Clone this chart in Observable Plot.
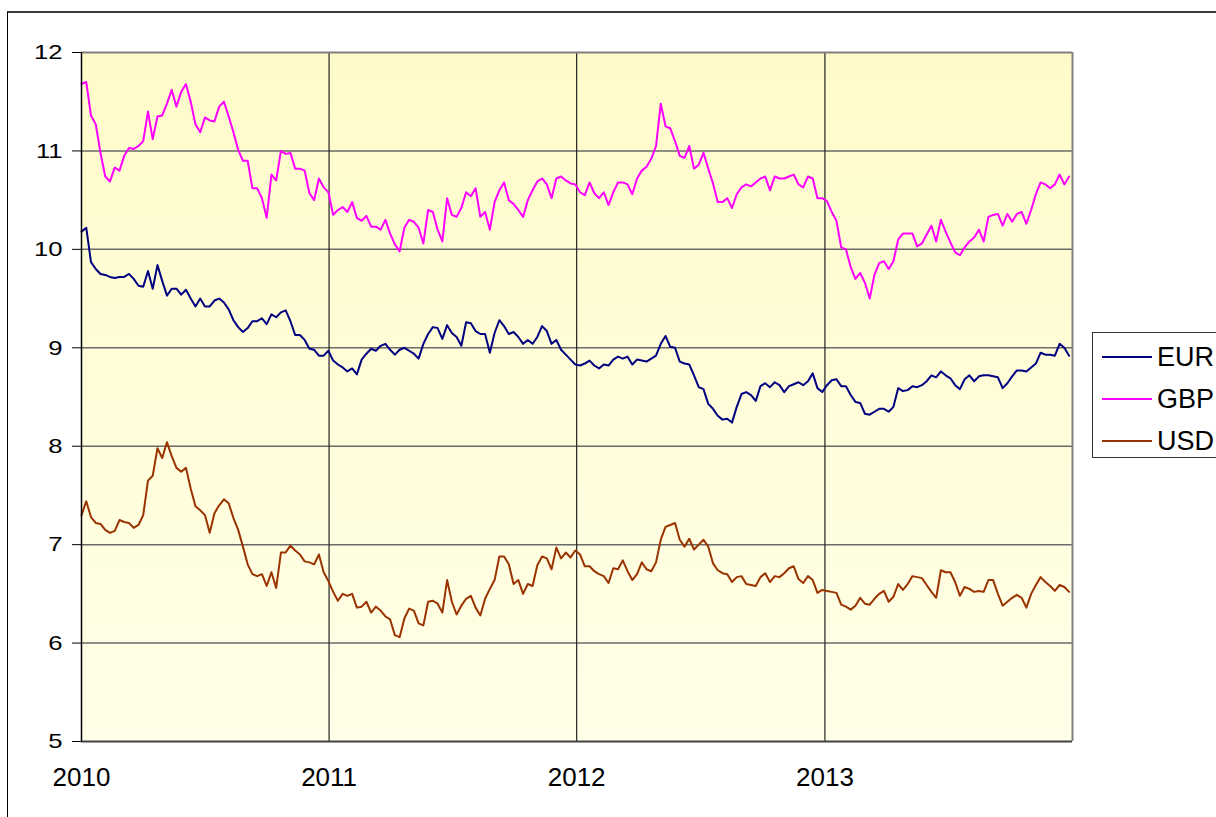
<!DOCTYPE html>
<html>
<head>
<meta charset="utf-8">
<script src="https://cdn.jsdelivr.net/npm/d3@7"></script>
<script src="https://cdn.jsdelivr.net/npm/@observablehq/plot@0.6"></script>
<style>
  html, body { margin: 0; padding: 0; background: #fff; overflow: hidden; }
  #wrap { position: relative; width: 1216px; height: 817px; font-family: "Liberation Sans", Arial, sans-serif; }
  #frame { position: absolute; left: 7px; top: 11px; width: 1300px; height: 900px; border-left: 1px solid #000; border-top: 2px solid #3a3a3a; }
  #chart { position: absolute; left: 0; top: 0; }
  #legend { position: absolute; left: 1092px; top: 332px; width: 150px; height: 124px; border: 1px solid #333; background: #fff; }
  .item { position: absolute; left: 9px; height: 30px; display: flex; align-items: center; font-size: 27px; color: #000; }
  .sw { width: 50px; height: 0; border-top: 2px solid; margin-right: 5px; }
</style>
</head>
<body>
<div id="wrap">
  <div id="frame"></div>
  <div id="chart"></div>
  <div id="legend"></div>
</div>
<script>
// Series (weekly readings, first value 2010-01-01, one per week)
const seriesNames = ["EUR", "GBP", "USD"];
const seriesColors = ["#000080", "#FF00FF", "#993300"];
const yTicks = [5, 6, 7, 8, 9, 10, 11, 12];
const yearLabels = [2010, 2011, 2012, 2013];
const startDate = Date.UTC(2010, 0, 1);
const endDate = Date.UTC(2014, 0, 1);

const eur = [
  10.18, 10.22, 9.87, 9.80, 9.75, 9.74, 9.72, 9.71, 9.72, 9.72,
  9.75, 9.70, 9.63, 9.62, 9.78, 9.60, 9.84, 9.68, 9.53, 9.60,
  9.60, 9.54, 9.59, 9.50, 9.42, 9.50, 9.42, 9.42, 9.48, 9.50,
  9.46, 9.39, 9.28, 9.21, 9.16, 9.20, 9.27, 9.27, 9.30, 9.24,
  9.34, 9.31, 9.36, 9.38, 9.27, 9.13, 9.13, 9.08, 8.99, 8.98,
  8.92, 8.92, 8.97, 8.87, 8.83, 8.80, 8.76, 8.79, 8.73, 8.88,
  8.94, 8.99, 8.97, 9.02, 9.04, 8.98, 8.93, 8.98, 9.00, 8.97,
  8.94, 8.89, 9.04, 9.14, 9.21, 9.20, 9.09, 9.23, 9.15, 9.11,
  9.02, 9.26, 9.25, 9.17, 9.14, 9.14, 8.95, 9.15, 9.28, 9.22,
  9.14, 9.16, 9.11, 9.04, 9.08, 9.04, 9.11, 9.22, 9.17, 9.04,
  9.08, 8.98, 8.93, 8.88, 8.83, 8.82, 8.84, 8.87, 8.82, 8.79,
  8.83, 8.82, 8.88, 8.91, 8.89, 8.91, 8.83, 8.88, 8.87, 8.86,
  8.89, 8.92, 9.04, 9.12, 9.01, 9.00, 8.86, 8.84, 8.83, 8.72,
  8.60, 8.58, 8.43, 8.38, 8.31, 8.27, 8.28, 8.24, 8.40, 8.53,
  8.55, 8.52, 8.46, 8.61, 8.64, 8.60, 8.65, 8.62, 8.55, 8.61,
  8.63, 8.65, 8.62, 8.66, 8.74, 8.59, 8.55, 8.62, 8.67, 8.68,
  8.61, 8.61, 8.52, 8.45, 8.44, 8.33, 8.32, 8.35, 8.38, 8.38,
  8.35, 8.40, 8.59, 8.56, 8.57, 8.61, 8.60, 8.62, 8.66, 8.72,
  8.70, 8.76, 8.72, 8.69, 8.62, 8.58, 8.68, 8.72, 8.66, 8.71,
  8.72, 8.72, 8.71, 8.70, 8.59, 8.64, 8.71, 8.77, 8.77, 8.76,
  8.80, 8.84, 8.95, 8.93, 8.93, 8.92, 9.04, 9.00, 8.92
];

const gbp = [
  11.68, 11.70, 11.36, 11.27, 10.98, 10.74, 10.69, 10.83, 10.80, 10.95,
  11.03, 11.02, 11.05, 11.10, 11.40, 11.12, 11.35, 11.36, 11.48, 11.62,
  11.45, 11.60, 11.68, 11.50, 11.27, 11.19, 11.34, 11.31, 11.30, 11.45,
  11.50, 11.35, 11.19, 11.01, 10.90, 10.90, 10.62, 10.62, 10.52, 10.32,
  10.76, 10.70, 11.00, 10.97, 10.98, 10.82, 10.82, 10.80, 10.57, 10.50,
  10.72, 10.63, 10.58, 10.35, 10.40, 10.43, 10.38, 10.48, 10.32, 10.29,
  10.34, 10.23, 10.23, 10.20, 10.30, 10.16, 10.05, 9.98, 10.22, 10.30,
  10.28, 10.22, 10.06, 10.40, 10.38, 10.20, 10.08, 10.52, 10.35, 10.33,
  10.42, 10.58, 10.54, 10.62, 10.33, 10.38, 10.20, 10.48, 10.60, 10.68,
  10.50, 10.46, 10.40, 10.33, 10.50, 10.60, 10.69, 10.72, 10.66, 10.52,
  10.72, 10.74, 10.70, 10.67, 10.66, 10.58, 10.55, 10.68, 10.57, 10.52,
  10.58, 10.45, 10.58, 10.68, 10.68, 10.66, 10.56, 10.72, 10.80, 10.84,
  10.92, 11.05, 11.48, 11.25, 11.23, 11.10, 10.95, 10.93, 11.05, 10.82,
  10.86, 10.98, 10.82, 10.67, 10.48, 10.48, 10.52, 10.42, 10.56, 10.63,
  10.66, 10.64, 10.68, 10.72, 10.74, 10.60, 10.74, 10.72, 10.72, 10.74,
  10.76, 10.66, 10.63, 10.74, 10.72, 10.52, 10.52, 10.49, 10.38, 10.29,
  10.02, 10.00, 9.82, 9.70, 9.76, 9.66, 9.50, 9.74, 9.86, 9.88,
  9.80, 9.88, 10.10, 10.16, 10.16, 10.16, 10.03, 10.06, 10.15, 10.24,
  10.08, 10.30, 10.18, 10.07, 9.97, 9.94, 10.02, 10.08, 10.12, 10.20,
  10.08, 10.33, 10.35, 10.36, 10.24, 10.36, 10.28, 10.36, 10.38, 10.26,
  10.40, 10.56, 10.68, 10.66, 10.62, 10.66, 10.76, 10.66, 10.74
];

const usd = [
  7.30, 7.44, 7.28, 7.22, 7.21, 7.15, 7.12, 7.14, 7.25, 7.23,
  7.22, 7.17, 7.20, 7.30, 7.65, 7.70, 7.98, 7.88, 8.04, 7.90,
  7.78, 7.74, 7.78, 7.57, 7.39, 7.35, 7.30, 7.12, 7.32, 7.40,
  7.46, 7.42, 7.27, 7.15, 6.98, 6.80, 6.70, 6.68, 6.70, 6.58,
  6.72, 6.56, 6.92, 6.92, 6.99, 6.94, 6.90, 6.83, 6.82, 6.80,
  6.90, 6.72, 6.63, 6.52, 6.43, 6.50, 6.48, 6.50, 6.36, 6.37,
  6.42, 6.31, 6.37, 6.33, 6.27, 6.24, 6.08, 6.06, 6.25, 6.35,
  6.33, 6.20, 6.18, 6.42, 6.43, 6.40, 6.31, 6.64, 6.42, 6.29,
  6.38, 6.45, 6.48, 6.36, 6.28, 6.45, 6.55, 6.64, 6.88, 6.88,
  6.80, 6.60, 6.64, 6.50, 6.60, 6.58, 6.79, 6.88, 6.86, 6.75,
  6.97, 6.86, 6.92, 6.87, 6.94, 6.90, 6.78, 6.78, 6.73, 6.70,
  6.68, 6.61, 6.76, 6.75, 6.84, 6.73, 6.64, 6.70, 6.82, 6.75,
  6.73, 6.82, 7.05, 7.18, 7.20, 7.22, 7.05, 6.98, 7.06, 6.95,
  7.00, 7.05, 6.98, 6.81, 6.74, 6.71, 6.70, 6.62, 6.67, 6.68,
  6.60, 6.59, 6.58, 6.67, 6.71, 6.62, 6.68, 6.67, 6.71, 6.76,
  6.78, 6.65, 6.61, 6.68, 6.64, 6.51, 6.54, 6.53, 6.52, 6.51,
  6.39, 6.37, 6.34, 6.38, 6.46, 6.40, 6.39, 6.45, 6.50, 6.53,
  6.42, 6.47, 6.60, 6.54, 6.60, 6.68, 6.67, 6.66, 6.59, 6.52,
  6.46, 6.74, 6.72, 6.72, 6.62, 6.48, 6.57, 6.55, 6.52, 6.53,
  6.52, 6.64, 6.64, 6.50, 6.38, 6.42, 6.46, 6.49, 6.46, 6.36,
  6.50, 6.59, 6.67, 6.62, 6.58, 6.53, 6.59, 6.57, 6.52
];

const WEEK = 7 * 864e5;
const seriesValues = [eur, gbp, usd];
const data = [];
seriesValues.forEach((vals, s) => {
  vals.forEach((v, i) => data.push({ series: seriesNames[s], date: new Date(startDate + i * WEEK), value: v }));
});
const yearDates = yearLabels.map(y => new Date(Date.UTC(y, 0, 1)));

const svg = Plot.plot({
  width: 1216,
  height: 817,
  marginLeft: 81,
  marginRight: 144,
  marginTop: 52,
  marginBottom: 76,
  style: { background: "transparent", color: "#000", fontFamily: '"Liberation Sans", Arial, sans-serif' },
  x: { type: "utc", domain: [new Date(startDate), new Date(endDate)] },
  y: { domain: [5, 12] },
  color: { domain: seriesNames, range: seriesColors },
  marks: [
    Plot.frame({ fill: "url(#bgGrad)", stroke: null }),
    Plot.gridY(yTicks.slice(1, -1), { stroke: "#6a6a6a", strokeOpacity: 1, strokeWidth: 1.5 }),
    Plot.gridX(yearDates.slice(1), { stroke: "#222", strokeOpacity: 1, strokeWidth: 1.2 }),
    Plot.ruleY([12], { stroke: "#808080", strokeWidth: 2 }),
    Plot.ruleX([new Date(endDate)], { stroke: "#808080", strokeWidth: 2 }),
    Plot.line(data, { x: "date", y: "value", stroke: "series", strokeWidth: 2, curve: "linear" }),
    Plot.ruleY([5], { stroke: "#404040", strokeWidth: 2 }),
    Plot.ruleX([new Date(startDate)], { stroke: "#000", strokeWidth: 1.5 }),
    Plot.axisY({ ticks: yTicks, tickSize: 9, tickPadding: 10, fontSize: 21, label: null, tickFormat: d => String(d) }),
    Plot.axisX({ ticks: yearDates, tickSize: 0, tickPadding: 26, fontSize: 26, label: null, tickFormat: d3.utcFormat("%Y") })
  ]
});

// background gradient
const defs = d3.select(svg).insert("defs", ":first-child");
const grad = defs.append("linearGradient").attr("id", "bgGrad").attr("x1", 0).attr("y1", 0).attr("x2", 0).attr("y2", 1);
grad.append("stop").attr("offset", "0%").attr("stop-color", "#FFFBC9");
grad.append("stop").attr("offset", "100%").attr("stop-color", "#FFFFE9");

document.getElementById("chart").appendChild(svg);

// widen y tick labels (reference text is horizontally stretched)
d3.select(svg).selectAll("g[aria-label='y-axis tick label'] text").each(function () {
  const w = this.getComputedTextLength();
  if (w > 0) {
    this.setAttribute("textLength", (w * 1.22).toFixed(1));
    this.setAttribute("lengthAdjust", "spacingAndGlyphs");
  }
});

// legend
const legend = document.getElementById("legend");
const rowCenters = [24, 66, 108];
seriesNames.forEach((name, i) => {
  const item = document.createElement("div");
  item.className = "item";
  item.style.top = (rowCenters[i] - 15) + "px";
  const sw = document.createElement("span");
  sw.className = "sw";
  sw.style.borderTopColor = seriesColors[i];
  const label = document.createElement("span");
  label.textContent = name;
  item.appendChild(sw);
  item.appendChild(label);
  legend.appendChild(item);
});
</script>
</body>
</html>
